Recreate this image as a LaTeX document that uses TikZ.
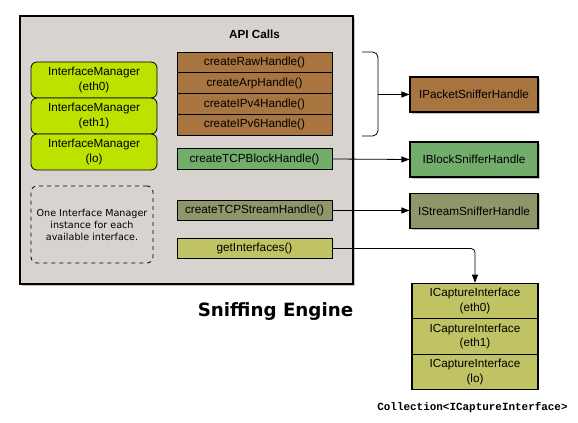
\documentclass[tikz,border=0pt]{standalone}
\usepackage{fontspec}
\setmainfont{Liberation Sans}
\newfontfamily\notefont{DejaVu Sans}
\newfontfamily\codefont{Liberation Mono}
\usetikzlibrary{arrows.meta}
\usetikzlibrary{shadows}
\definecolor{mgray}{RGB}{217, 211, 208}
\definecolor{mbrown}{RGB}{168, 116, 64}
\definecolor{mgreen}{RGB}{114, 173, 108}
\definecolor{molive}{RGB}{142, 150, 106}
\definecolor{myellow}{RGB}{191, 195, 100}
\definecolor{mlime}{RGB}{190, 226, 0}
\tikzset{txt/.style = {font=\fontsize{8.8}{10.9}\selectfont, align=center, inner sep=0pt},
         shade/.style = {drop shadow={shadow xshift=1.5pt, shadow yshift=-1.5pt, opacity=0.45}},
         engine/.style = {draw, fill=mgray, line width=1.1pt, minimum width=249.75pt,
                          minimum height=201pt, shade},
         call/.style = {txt, draw, line width=0.6pt, minimum width=116.25pt, minimum height=15.6pt},
         manager/.style = {txt, draw, fill=mlime, line width=0.6pt, rounded corners=4.5pt,
                           minimum width=94.5pt, minimum height=27pt},
         handle/.style = {txt, draw, line width=0.8pt, minimum width=96pt, minimum height=26.25pt, shade},
         capture/.style = {txt, draw, fill=myellow, line width=0.8pt, minimum width=94.5pt,
                           minimum height=26.6pt},
         link/.style = {-{Triangle[length=6pt, width=4.5pt]}, line width=0.6pt}}

\begin{document}
\begin{tikzpicture}[x=0.75pt, y=-0.75pt]
    \useasboundingbox (0, 0) rectangle (578, 423);

    % sniffing engine
    \node [engine] (engine) at (186.5, 150) {};
    \node [txt, font=\fontsize{8.8}{10.9}\bfseries] (api) at (254.5, 34) {API Calls};

    \node [manager] (mgr0) at (94, 80) {InterfaceManager\\(eth0)};
    \node [manager] (mgr1) at (94, 116) {InterfaceManager\\(eth1)};
    \node [manager] (mgr2) at (94, 152) {InterfaceManager\\(lo)};
    \node [txt, draw, dashed, line width=0.6pt, rounded corners=4.5pt, minimum width=91.5pt,
           minimum height=57.75pt, font=\notefont\fontsize{7.2}{9}\selectfont]
          (note) at (92, 224.5) {One Interface Manager\\instance for each\\available interface.};

    \node [call, fill=mbrown] (raw) at (254.5, 62.4) {createRawHandle()};
    \node [call, fill=mbrown] (arp) at (254.5, 83.2) {createArpHandle()};
    \node [call, fill=mbrown] (ipv4) at (254.5, 104) {createIPv4Handle()};
    \node [call, fill=mbrown] (ipv6) at (254.5, 124.8) {createIPv6Handle()};
    \node [call, fill=mgreen] (block) at (254.5, 159) {createTCPBlockHandle()};
    \node [call, fill=molive] (stream) at (254.5, 210.5) {createTCPStreamHandle()};
    \node [call, fill=myellow] (getif) at (254.5, 248.5) {getInterfaces()};

    \node [anchor=base, inner sep=0pt, font=\notefont\fontsize{13.7}{15}\bfseries]
          (title) at (275.5, 316.7) {Sniffing Engine};

    % handles
    \node [handle, fill=mbrown] (hpacket) at (474, 94.5) {IPacketSnifferHandle};
    \node [handle, fill=mgreen] (hblock) at (474, 159.5) {IBlockSnifferHandle};
    \node [handle, fill=molive] (hstream) at (474, 211) {IStreamSnifferHandle};

    % captured interfaces
    \begin{scope}[shade]
      \fill [black] (412, 283) rectangle (538, 390);
    \end{scope}
    \node [capture] (cap0) at (475, 301) {ICaptureInterface\\(eth0)};
    \node [capture] (cap1) at (475, 336.5) {ICaptureInterface\\(eth1)};
    \node [capture] (cap2) at (475, 372) {ICaptureInterface\\(lo)};
    \node [font=\codefont\fontsize{8.2}{10}\bfseries] (coll) at (472.5, 408)
          {Collection<ICaptureInterface>};

    % brace and links
    \draw [line width=0.6pt, rounded corners=4pt] (362, 52) -- (378, 52) -- (378, 136) -- (362, 136);
    \coordinate (brace) at (378, 94.5);
    \draw [link] (brace) -- (hpacket.west);
    \draw [link] (block.east) -- (hblock.west);
    \draw [link] (stream.east) -- (stream.east -| hstream.west);
    \draw [link, rounded corners=3pt] (getif.east) -| (cap0.north);
\end{tikzpicture}
\end{document}
